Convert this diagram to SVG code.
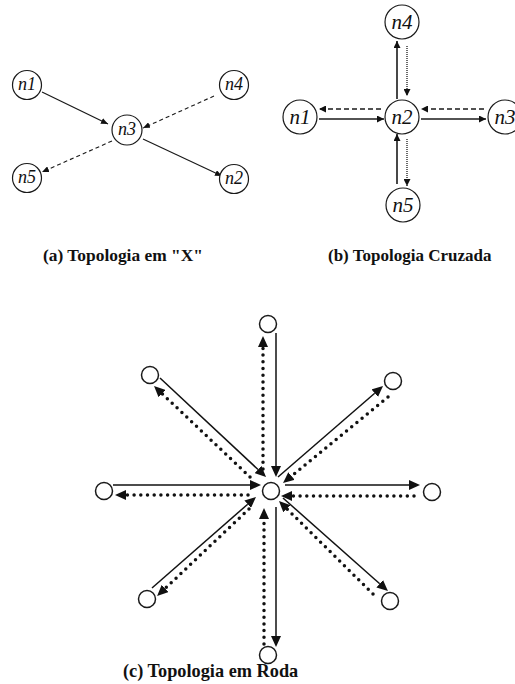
<svg xmlns="http://www.w3.org/2000/svg" width="515" height="684" viewBox="0 0 515 684">
  <style>
    .bg { fill: #ffffff; }
    .node { fill: #ffffff; stroke: #1a1a1a; stroke-width: 1.2; }
    .dot-node { fill: #ffffff; stroke: #1a1a1a; stroke-width: 1.5; }
    .nlabel { font-family: "Liberation Serif", "Times New Roman", serif; font-style: italic; fill: #111; text-anchor: middle; }
    .na { font-size: 18px; }
    .nb { font-size: 21px; }
    .caption { font-family: "Liberation Serif", "Times New Roman", serif; font-weight: bold; fill: #111; }
    .solid { fill: none; stroke: #1a1a1a; stroke-width: 1.2; }
    .solid-b { fill: none; stroke: #1a1a1a; stroke-width: 1.6; }
    .dashed { fill: none; stroke: #1a1a1a; stroke-width: 1.1; stroke-dasharray: 4 3; }
    .dashed-b { fill: none; stroke: #1a1a1a; stroke-width: 1.3; stroke-dasharray: 5 3; }
    .fine-dot { fill: none; stroke: #1a1a1a; stroke-width: 1.3; stroke-dasharray: 1 1; }
    .spoke { fill: none; stroke: #111; stroke-width: 1.5; }
    .spoke-dot { fill: none; stroke: #111; stroke-width: 3.5; stroke-linecap: round; stroke-dasharray: 0 6.7; }
  </style>
  <defs>
    <!-- small arrowhead, tip at path end -->
    <marker id="ah-s" markerUnits="userSpaceOnUse" markerWidth="8" markerHeight="6" refX="7" refY="3" orient="auto">
      <path d="M0,0 L7,3 L0,6 Z" fill="#111"/>
    </marker>
    <!-- medium arrowhead, tip at path end -->
    <marker id="ah-m" markerUnits="userSpaceOnUse" markerWidth="8" markerHeight="7" refX="7" refY="3.5" orient="auto">
      <path d="M0,0 L7,3.5 L0,7 Z" fill="#111"/>
    </marker>
    <!-- large arrowhead, base at path end -->
    <marker id="ah-l" markerUnits="userSpaceOnUse" markerWidth="12" markerHeight="10" refX="0" refY="5" orient="auto">
      <path d="M0,0 L11,5 L0,10 Z" fill="#111"/>
    </marker>
  </defs>

  <rect class="bg" x="0" y="0" width="515" height="684"/>

  <!-- (a) X topology: connectors -->
  <g id="connectors-a">
    <path class="solid" d="M42,92 L108,124" marker-end="url(#ah-s)"/>
    <path class="dashed" d="M214,96 L143,128" marker-end="url(#ah-s)"/>
    <path class="dashed" d="M112,141 L42,172" marker-end="url(#ah-s)"/>
    <path class="solid" d="M143,139 L222,176" marker-end="url(#ah-s)"/>
  </g>

  <!-- (a) X topology: nodes -->
  <g id="a-n1"><circle class="node" cx="27" cy="85" r="14.5"/><text class="nlabel na" x="27" y="90">n1</text></g>
  <g id="a-n4"><circle class="node" cx="234" cy="85" r="14.5"/><text class="nlabel na" x="234" y="90">n4</text></g>
  <g id="a-n3"><circle class="node" cx="127" cy="130" r="15"/><text class="nlabel na" x="127" y="135">n3</text></g>
  <g id="a-n5"><circle class="node" cx="27" cy="178" r="14.5"/><text class="nlabel na" x="27" y="183">n5</text></g>
  <g id="a-n2"><circle class="node" cx="234" cy="179" r="14.5"/><text class="nlabel na" x="234" y="184">n2</text></g>

  <!-- (b) crossed topology: connectors -->
  <g id="connectors-b">
    <path class="solid-b" d="M397,99 L397,41" marker-end="url(#ah-m)"/>
    <path class="fine-dot" d="M407,46 L407,96" marker-end="url(#ah-m)"/>
    <path class="dashed-b" d="M381,109 L319,109" marker-end="url(#ah-m)"/>
    <path class="solid-b" d="M319,119 L384,119" marker-end="url(#ah-m)"/>
    <path class="dashed-b" d="M484,109 L421,109" marker-end="url(#ah-m)"/>
    <path class="solid-b" d="M421,119 L486,119" marker-end="url(#ah-m)"/>
    <path class="solid-b" d="M397,184 L397,134" marker-end="url(#ah-m)"/>
    <path class="fine-dot" d="M407,139 L407,186" marker-end="url(#ah-m)"/>
  </g>

  <!-- (b) crossed topology: nodes -->
  <g id="b-n4"><circle class="node" cx="402" cy="22" r="17"/><text class="nlabel nb" x="402" y="29">n4</text></g>
  <g id="b-n1"><circle class="node" cx="300" cy="117" r="17"/><text class="nlabel nb" x="300" y="124">n1</text></g>
  <g id="b-n2"><circle class="node" cx="402" cy="117" r="17"/><text class="nlabel nb" x="402" y="124">n2</text></g>
  <g id="b-n3"><circle class="node" cx="505" cy="117" r="17"/><text class="nlabel nb" x="505" y="124">n3</text></g>
  <g id="b-n5"><circle class="node" cx="403" cy="205" r="17"/><text class="nlabel nb" x="403" y="212">n5</text></g>

  <!-- (c) wheel topology: spokes -->
  <g id="connectors-c">
    <!-- top -->
    <path class="spoke" d="M276,333 L276,466" marker-end="url(#ah-l)"/>
    <path class="spoke-dot" d="M263,469 L263,347" marker-end="url(#ah-l)"/>
    <!-- bottom -->
    <path class="spoke" d="M276,507 L276,636" marker-end="url(#ah-l)"/>
    <path class="spoke-dot" d="M264,644 L264,519" marker-end="url(#ah-l)"/>
    <!-- left -->
    <path class="spoke" d="M113,485 L250,485" marker-end="url(#ah-l)"/>
    <path class="spoke-dot" d="M248,495 L126,495" marker-end="url(#ah-l)"/>
    <!-- right -->
    <path class="spoke" d="M285,485 L409,485" marker-end="url(#ah-l)"/>
    <path class="spoke-dot" d="M414,496 L292,496" marker-end="url(#ah-l)"/>
    <!-- upper left -->
    <path class="spoke" d="M160,378 L258,469.5" marker-end="url(#ah-l)"/>
    <path class="spoke-dot" d="M250,477 L162,393.6" marker-end="url(#ah-l)"/>
    <!-- upper right -->
    <path class="spoke" d="M278,477 L374.7,393.2" marker-end="url(#ah-l)"/>
    <path class="spoke-dot" d="M388,397 L291.5,476" marker-end="url(#ah-l)"/>
    <!-- lower left -->
    <path class="spoke" d="M152,588 L247.7,504.2" marker-end="url(#ah-l)"/>
    <path class="spoke-dot" d="M249,509 L165.1,588.5" marker-end="url(#ah-l)"/>
    <!-- lower right -->
    <path class="spoke" d="M283,498 L379.7,583.7" marker-end="url(#ah-l)"/>
    <path class="spoke-dot" d="M373,594 L286.8,508.7" marker-end="url(#ah-l)"/>
  </g>

  <!-- (c) wheel topology: nodes -->
  <g id="c-hub"><circle class="dot-node" cx="271" cy="491" r="8.5"/></g>
  <g id="c-top"><circle class="dot-node" cx="268" cy="324" r="8.5"/></g>
  <g id="c-upper-left"><circle class="dot-node" cx="150" cy="375" r="8.5"/></g>
  <g id="c-upper-right"><circle class="dot-node" cx="393" cy="381" r="8.5"/></g>
  <g id="c-left"><circle class="dot-node" cx="104" cy="491" r="8.5"/></g>
  <g id="c-right"><circle class="dot-node" cx="432" cy="492" r="8.5"/></g>
  <g id="c-lower-left"><circle class="dot-node" cx="147" cy="599" r="8.5"/></g>
  <g id="c-lower-right"><circle class="dot-node" cx="390" cy="601" r="8.5"/></g>
  <g id="c-bottom"><circle class="dot-node" cx="268" cy="655" r="8.5"/></g>

  <!-- captions -->
  <text class="caption" x="43" y="261" font-size="17.4">(a) Topologia em "X"</text>
  <text class="caption" x="328" y="261" font-size="17">(b) Topologia Cruzada</text>
  <text class="caption" x="123" y="677" font-size="18.3">(c) Topologia em Roda</text>
</svg>
